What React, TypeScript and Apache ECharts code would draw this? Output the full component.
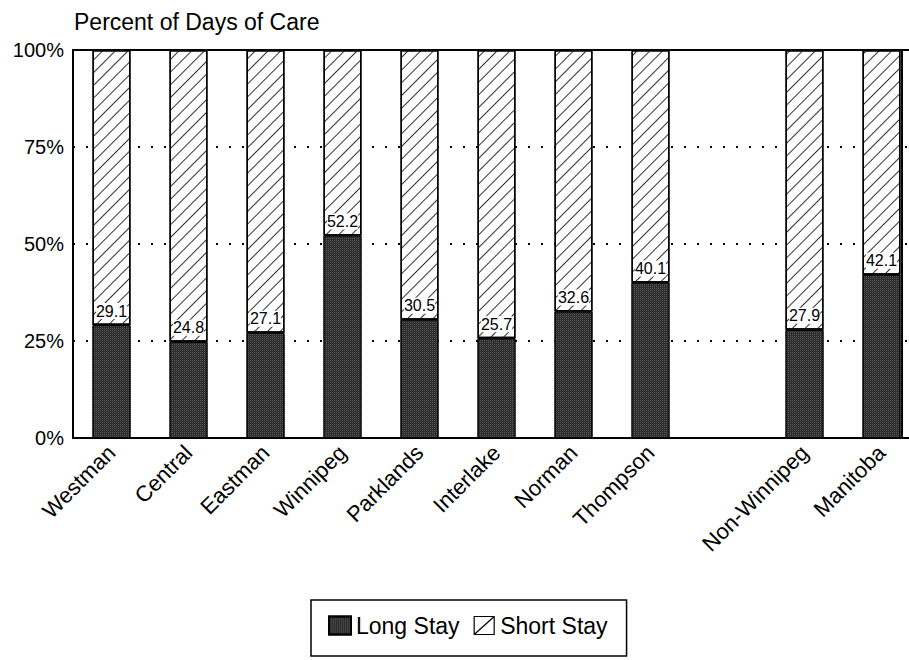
import React, { useEffect, useRef } from "react";
import * as echarts from "echarts";

const categories = [
  "Westman",
  "Central",
  "Eastman",
  "Winnipeg",
  "Parklands",
  "Interlake",
  "Norman",
  "Thompson",
  "",
  "Non-Winnipeg",
  "Manitoba",
];
const longStay = [29.1, 24.8, 27.1, 52.2, 30.5, 25.7, 32.6, 40.1, null, 27.9, 42.1];
const shortStay = [70.9, 75.2, 72.9, 47.8, 69.5, 74.3, 67.4, 59.9, null, 72.1, 57.9];
const yTickValues = [0, 25, 50, 75, 100];
const yTickLabels = ["0%", "25%", "50%", "75%", "100%"];
const seriesNames = ["Long Stay", "Short Stay"];
const titleText = "Percent of Days of Care";

const FONT = "'Liberation Sans', Arial, Helvetica, sans-serif";

export default function App() {
  const ref = useRef<HTMLDivElement>(null);
  useEffect(() => {
    if (!ref.current) return;
    const chart = echarts.init(ref.current, null, { renderer: "svg" });
    const hatch = {
      symbol: "rect",
      symbolSize: 1,
      dashArrayX: [1, 0],
      dashArrayY: [1, 8],
      rotation: -Math.PI / 4,
      color: "#333",
    };
    const dither = {
      symbol: "rect",
      symbolSize: 1,
      dashArrayX: [1, 1],
      dashArrayY: [1, 1],
      rotation: 0,
      color: "rgba(120,120,120,0.55)",
    };
    chart.setOption({
      animation: false,
      backgroundColor: "#fff",
      textStyle: { fontFamily: FONT, color: "#000" },
      title: {
        text: titleText,
        left: 74,
        top: 10,
        padding: 0,
        textStyle: { fontSize: 23, fontWeight: "normal", color: "#000", fontFamily: FONT },
      },
      grid: { left: 73, top: 50, bottom: 222, width: 847, containLabel: false },
      legend: {
        left: 311,
        top: 600,
        orient: "horizontal",
        padding: [14, 19, 19, 17],
        itemWidth: 22,
        itemHeight: 18,
        itemGap: 14,
        borderColor: "#000",
        borderWidth: 1.5,
        borderRadius: 0,
        textStyle: { fontSize: 23, color: "#000", fontFamily: FONT },
        data: [
          { name: seriesNames[0], icon: "rect" },
          {
            name: seriesNames[1],
            icon: "path://M0,0L20,0L20,18L0,18Z M0,18L20,0",
            itemStyle: { color: "#fff", borderColor: "#000", borderWidth: 1.2, decal: "none" },
          },
        ],
      },
      xAxis: [
        {
          type: "category",
          data: categories,
          position: "bottom",
          axisLine: { show: true, lineStyle: { color: "#000", width: 2 } },
          axisTick: { show: false },
          axisLabel: {
            rotate: 45,
            interval: 0,
            margin: 11,
            fontSize: 22,
            color: "#000",
            fontFamily: FONT,
          },
          splitLine: { show: false },
        },
        {
          type: "category",
          data: categories,
          position: "top",
          axisLine: { show: true, lineStyle: { color: "#000", width: 2 } },
          axisTick: { show: false },
          axisLabel: { show: false },
          splitLine: { show: false },
        },
      ],
      yAxis: {
        type: "value",
        min: 0,
        max: 100,
        interval: 25,
        axisLine: { show: true, lineStyle: { color: "#000", width: 2 } },
        axisTick: { show: false },
        axisLabel: {
          margin: 9,
          fontSize: 20,
          color: "#000",
          fontFamily: FONT,
          formatter: (v: number) => yTickLabels[yTickValues.indexOf(v)] ?? "",
        },
        splitLine: {
          show: true,
          lineStyle: { color: "#000", width: 2, type: [2, 11] },
        },
      },
      series: [
        {
          name: seriesNames[0],
          type: "bar",
          stack: "total",
          barWidth: 38,
          data: longStay,
          itemStyle: { color: "#2e2e2e", borderColor: "#000", borderWidth: 1, decal: dither },
          label: {
            show: true,
            position: "top",
            distance: 6,
            fontSize: 16,
            color: "#000",
            fontFamily: FONT,
            backgroundColor: "#fff",
            padding: [0, 0],
            formatter: (p: any) => (p.value == null ? "" : p.value.toFixed(1)),
          },
          z: 3,
        },
        {
          name: seriesNames[1],
          type: "bar",
          stack: "total",
          barWidth: 38,
          data: shortStay,
          itemStyle: { color: "#fff", borderColor: "#000", borderWidth: 1.5, decal: hatch },
          z: 2,
        },
      ],
      graphic: [
        {
          type: "line",
          shape: { x1: 902, y1: 50, x2: 902, y2: 438 },
          style: { stroke: "#000", lineWidth: 2 },
          z: 10,
        },
      ],
    });
    return () => chart.dispose();
  }, []);
  return (
    <div
      style={{
        position: "fixed",
        left: 0,
        top: 0,
        width: 909,
        height: 660,
        overflow: "hidden",
        background: "#fff",
      }}
    >
      <div ref={ref} style={{ width: 930, height: 660 }} />
    </div>
  );
}
